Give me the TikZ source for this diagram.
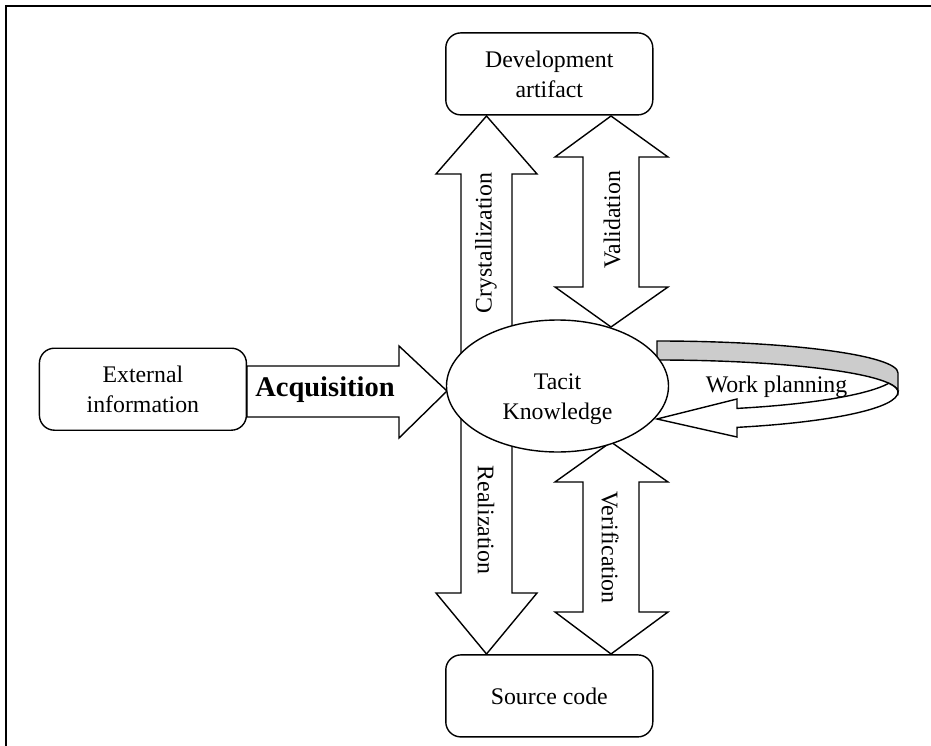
\documentclass[tikz,border=0pt]{standalone}
\usepackage{fontspec}
\setmainfont{Liberation Serif}
\usetikzlibrary{shapes.geometric}
\begin{document}
\begin{tikzpicture}[x=1pt,y=1pt,
  every node/.style={font=\fontsize{23.8}{30}\selectfont},
  outline/.style={draw=black, line width=1.4pt, line join=miter, fill=white},
  stage/.style={outline, rounded corners=15pt, minimum width=207pt,
    minimum height=82pt, align=center, inner sep=0pt},
  tacit/.style={outline, ellipse, minimum width=222pt, minimum height=132pt, inner sep=0pt},
  caption/.style={inner sep=0pt, align=center},
  backface/.style={draw=black, line width=1.4pt, fill=black!20}
]
% canvas
\useasboundingbox (0,0) rectangle (931,-746);
\draw[line width=2pt] (6,-746) -- (6,-6) -- (931,-6);

% acquisition block arrow
\draw[outline] (247,-366) -- (399,-366) -- (399,-346) -- (447,-391)
  -- (399,-438) -- (399,-417) -- (247,-417) -- cycle;

% crystallization (up) and realization (down)
\draw[outline] (461,-386) -- (461,-174) -- (436,-174) -- (486.5,-116)
  -- (537,-174) -- (512,-174) -- (512,-386) -- cycle;
\draw[outline] (461,-386) -- (461,-593) -- (436,-593) -- (486.5,-654)
  -- (537,-593) -- (512,-593) -- (512,-386) -- cycle;

% validation and verification double arrows
\draw[outline] (611,-116) -- (668,-157) -- (639,-157) -- (639,-287) -- (668,-287)
  -- (611,-327) -- (555,-287) -- (583,-287) -- (583,-157) -- (555,-157) -- cycle;
\draw[outline] (611,-442) -- (668,-482) -- (639,-482) -- (639,-612) -- (668,-612)
  -- (611,-654) -- (555,-612) -- (583,-612) -- (583,-482) -- (555,-482) -- cycle;

% work planning ribbon: inner (back) side, then front face with head
\draw[backface] (898,-373) arc[start angle=0,end angle=90,x radius=241,y radius=32]
  -- (657,-360) arc[start angle=90,end angle=0,x radius=241,y radius=32] -- cycle;
\draw[outline] (898,-392) arc[start angle=0,end angle=-70.6,x radius=241,y radius=37.5]
  -- (737,-437) -- (657,-419) -- (737,-399) -- (737,-408.4)
  arc[start angle=-70.6,end angle=-15.87,x radius=241,y radius=37.5]
  arc[start angle=15.87,end angle=0,x radius=241,y radius=32] -- cycle;

% nodes
\node[tacit] (tk) at (557.5,-386) {};
\node[caption] (tktext) at (557.5,-399) {Tacit\\Knowledge};
\node[stage] (dev) at (549.3,-73.9) {Development\\artifact};
\node[stage] (src) at (549.3,-695.9) {Source code};
\node[stage] (ext) at (142.9,-389.2) {External\\information};

% arrow labels
\node[caption, font=\fontsize{28.5}{34}\selectfont\bfseries] (acq) at (325,-390) {Acquisition};
\node[caption, rotate=90] (cry) at (486,-243) {Crystallization};
\node[caption, rotate=90] (val) at (612,-220) {Validation};
\node[caption, rotate=-90] (rea) at (486,-520) {Realization};
\node[caption, rotate=-90] (ver) at (610,-547.5) {Verification};
\node[caption, anchor=base] (wp) at (776.5,-392) {Work planning};
\end{tikzpicture}
\end{document}
